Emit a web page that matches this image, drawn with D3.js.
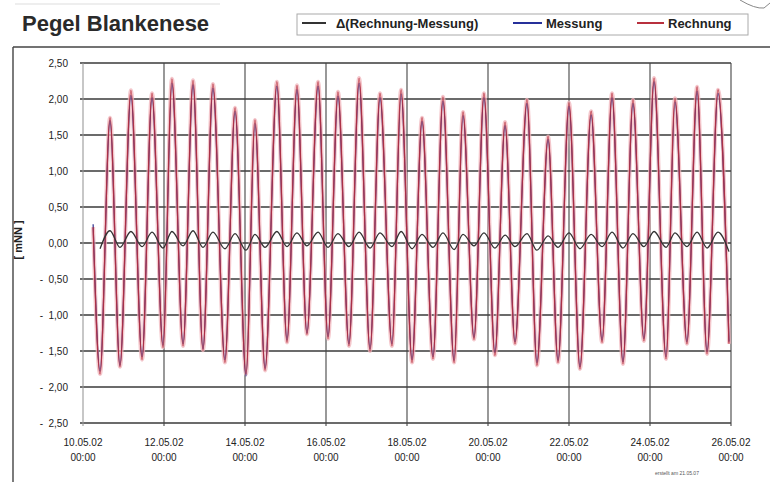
<!DOCTYPE html>
<html>
<head>
<meta charset="utf-8">
<script src="https://cdn.jsdelivr.net/npm/d3@7"></script>
<style>
  body { margin: 0; background: #fff; }
  svg { display: block; font-family: "Liberation Sans", Arial, sans-serif; }
</style>
</head>
<body>
<svg id="chart" width="770" height="482"></svg>
<script>
// hours after 10.05.02 00:00 of low / high water
const lwHours = [10.1, 21.9, 35.0, 47.4, 59.3, 71.1, 84.1, 96.6, 107.9, 120.9, 132.7, 145.2, 157.6, 170.1, 183.1, 195.0,
  207.4, 219.9, 231.7, 244.1, 256.0, 269.0, 281.5, 294.5, 307.6, 320.0, 332.4, 345.5, 357.9, 369.8, 382.8];
const hwHours = [16.0, 28.4, 40.9, 52.7, 65.2, 77.0, 90.1, 101.9, 114.9, 126.8, 139.3, 151.1, 163.6, 176.0, 188.5,
  200.9, 213.3, 225.2, 237.6, 250.1, 263.1, 275.6, 288.0, 301.1, 313.5, 325.9, 338.4, 350.8, 363.9, 376.3];

// Rechnung (model)
const rechStart = 0.22;
const rechLw = [-1.82, -1.72, -1.62, -1.45, -1.43, -1.49, -1.66, -1.82, -1.77, -1.38, -1.27, -1.33, -1.43, -1.50, -1.43, -1.66,
  -1.61, -1.66, -1.34, -1.56, -1.40, -1.70, -1.66, -1.75, -1.38, -1.68, -1.36, -1.61, -1.40, -1.54, -1.40];
const rechHw = [1.74, 2.12, 2.08, 2.28, 2.26, 2.21, 1.88, 1.71, 2.24, 2.19, 2.24, 2.10, 2.29, 2.08, 2.13,
  1.74, 2.03, 1.82, 2.08, 1.68, 1.99, 1.48, 1.95, 1.83, 2.08, 1.99, 2.29, 2.01, 2.17, 2.13];

// Messung (gauge)
const messStart = 0.26;
const messLw = [-1.78, -1.70, -1.58, -1.42, -1.40, -1.47, -1.62, -1.85, -1.74, -1.35, -1.25, -1.30, -1.40, -1.47, -1.40, -1.62,
  -1.58, -1.63, -1.31, -1.52, -1.37, -1.66, -1.63, -1.72, -1.35, -1.65, -1.33, -1.58, -1.37, -1.51, -1.37];
const messHw = [1.70, 2.05, 2.02, 2.22, 2.20, 2.15, 1.83, 1.66, 2.18, 2.13, 2.18, 2.04, 2.22, 2.02, 2.07,
  1.69, 1.97, 1.77, 2.02, 1.63, 1.94, 1.44, 1.90, 1.78, 2.02, 1.94, 2.24, 1.96, 2.11, 2.08];

// Δ(Rechnung-Messung)
const deltaLw = [-0.08, -0.06, -0.05, -0.07, -0.04, -0.06, -0.08, -0.10, -0.06, -0.05, -0.04, -0.06, -0.05, -0.07, -0.05, -0.08,
  -0.06, -0.09, -0.04, -0.07, -0.05, -0.10, -0.06, -0.08, -0.05, -0.07, -0.05, -0.06, -0.05, -0.07, -0.12];
const deltaHw = [0.17, 0.16, 0.15, 0.16, 0.17, 0.15, 0.13, 0.12, 0.16, 0.14, 0.15, 0.13, 0.15, 0.14, 0.16,
  0.12, 0.14, 0.12, 0.14, 0.11, 0.13, 0.10, 0.14, 0.12, 0.15, 0.13, 0.16, 0.14, 0.15, 0.15];

const startHour = 6.0;
const yTicks = [2.5, 2, 1.5, 1, 0.5, 0, -0.5, -1, -1.5, -2, -2.5];
const xTickLabels = ['10.05.02', '12.05.02', '14.05.02', '16.05.02', '18.05.02', '20.05.02', '22.05.02', '24.05.02', '26.05.02'];

const parseDay = d3.timeParse('%d.%m.%y');
const xTicks = xTickLabels.map(parseDay);
const t0 = xTicks[0];
const t1 = xTicks[xTicks.length - 1];

const svg = d3.select('#chart');
const plotLeft = 83, plotRight = 731, plotTop = 63, plotBottom = 423;

const x = d3.scaleTime().domain([t0, t1]).range([plotLeft, plotRight]);
const y = d3.scaleLinear().domain([-2.5, 2.5]).range([plotBottom, plotTop]);

const at = (h) => d3.timeMinute.offset(t0, Math.round(h * 60));

// merge start, low and high waters into one time-ordered series
const buildSeries = (start, lw, hw) => {
  const pts = [];
  if (start != null) pts.push({ t: at(startHour), v: start });
  lwHours.forEach((h, i) => pts.push({ t: at(h), v: lw[i] }));
  hwHours.forEach((h, i) => pts.push({ t: at(h), v: hw[i] }));
  return pts.sort((a, b) => a.t - b.t);
};

const rechnung = buildSeries(rechStart, rechLw, rechHw);
const messung = buildSeries(messStart, messLw, messHw);
const delta = buildSeries(null, deltaLw, deltaHw);

// frame lines of the sheet
svg.append('line').attr('x1', 15).attr('x2', 220).attr('y1', 4).attr('y2', 4)
  .attr('stroke', '#ddd').attr('stroke-width', 1);
svg.append('line').attr('x1', 13).attr('x2', 770).attr('y1', 47).attr('y2', 47)
  .attr('stroke', '#444').attr('stroke-width', 1.6);
svg.append('line').attr('x1', 13).attr('x2', 13).attr('y1', 47).attr('y2', 482)
  .attr('stroke', '#444').attr('stroke-width', 1.4);
svg.append('path').attr('d', 'M740,0 Q755,9 764,8 L770,3')
  .attr('fill', 'none').attr('stroke', '#888').attr('stroke-width', 1);

// title
svg.append('text').attr('x', 22).attr('y', 31)
  .style('font-size', '22px').style('font-weight', 'bold').style('fill', '#2a2a2a')
  .text('Pegel Blankenese');

// legend
const legend = svg.append('g');
legend.append('rect').attr('x', 297).attr('y', 14).attr('width', 451).attr('height', 21)
  .attr('fill', '#fff').attr('stroke', '#aaa').attr('stroke-width', 1);
const legendItems = [
  { label: 'Δ(Rechnung-Messung)', color: '#333', x1: 302, x2: 326, tx: 336 },
  { label: 'Messung', color: '#26309a', x1: 513, x2: 542, tx: 546 },
  { label: 'Rechnung', color: '#b8303e', x1: 637, x2: 664, tx: 668 }
];
legendItems.forEach((d) => {
  legend.append('line').attr('x1', d.x1).attr('x2', d.x2).attr('y1', 23).attr('y2', 23)
    .attr('stroke', d.color).attr('stroke-width', 2);
  legend.append('text').attr('x', d.tx).attr('y', 28)
    .style('font-size', '13px').style('font-weight', 'bold').style('fill', '#222')
    .text(d.label);
});

// grid
const grid = svg.append('g');
grid.selectAll('.hgrid').data(yTicks).join('line')
  .attr('x1', plotLeft - 3).attr('x2', plotRight)
  .attr('y1', (d) => y(d)).attr('y2', (d) => y(d))
  .attr('stroke', '#3a3a3a').attr('stroke-width', 1.5);
grid.selectAll('.vgrid').data(xTicks).join('line')
  .attr('x1', (d) => x(d)).attr('x2', (d) => x(d))
  .attr('y1', plotTop).attr('y2', plotBottom + 3)
  .attr('stroke', (d, i) => (i === 0 ? '#999' : '#444'))
  .attr('stroke-width', 1.1);

// y labels
const fmtY = (v) => {
  const s = d3.format('.2f')(Math.abs(v)).replace('.', ',');
  return v < 0 ? '-  ' + s : s;
};
svg.append('g').selectAll('text').data(yTicks).join('text')
  .attr('x', 68).attr('y', (d) => y(d) + 3.5)
  .attr('text-anchor', 'end')
  .style('font-size', '10px').style('fill', '#222').style('white-space', 'pre')
  .text(fmtY);

svg.append('text')
  .attr('transform', 'translate(22,240) rotate(-90)')
  .attr('text-anchor', 'middle')
  .style('font-size', '11px').style('font-weight', 'bold').style('fill', '#222')
  .style('white-space', 'pre')
  .text('[ mNN ]');

// x labels
const xl = svg.append('g').selectAll('g').data(xTicks).join('g')
  .attr('transform', (d) => `translate(${x(d)},0)`);
xl.append('text').attr('y', 446).attr('text-anchor', 'middle')
  .style('font-size', '10px').style('fill', '#222')
  .text(d3.timeFormat('%d.%m.%y'));
xl.append('text').attr('y', 461).attr('text-anchor', 'middle')
  .style('font-size', '10px').style('fill', '#222')
  .text(d3.timeFormat('%H:%M'));

// series
const line = d3.line().x((d) => x(d.t)).y((d) => y(d.v)).curve(d3.curveMonotoneX);
const plot = svg.append('g');
plot.append('path').datum(rechnung).attr('d', line)
  .attr('fill', 'none').attr('stroke', '#f0b4bb').attr('stroke-width', 4).attr('opacity', 0.75);
plot.append('path').datum(messung).attr('d', line)
  .attr('fill', 'none').attr('stroke', '#2a2f8c').attr('stroke-width', 1.2);
plot.append('path').datum(rechnung).attr('d', line)
  .attr('fill', 'none').attr('stroke', '#b8303e').attr('stroke-width', 1.3).attr('opacity', 0.9);
plot.append('path').datum(delta).attr('d', line)
  .attr('fill', 'none').attr('stroke', '#333').attr('stroke-width', 1.3);

// footer note
svg.append('text').attr('x', 655).attr('y', 475)
  .style('font-size', '5px').style('fill', '#555')
  .text('erstellt am 21.05.07');
</script>
</body>
</html>
